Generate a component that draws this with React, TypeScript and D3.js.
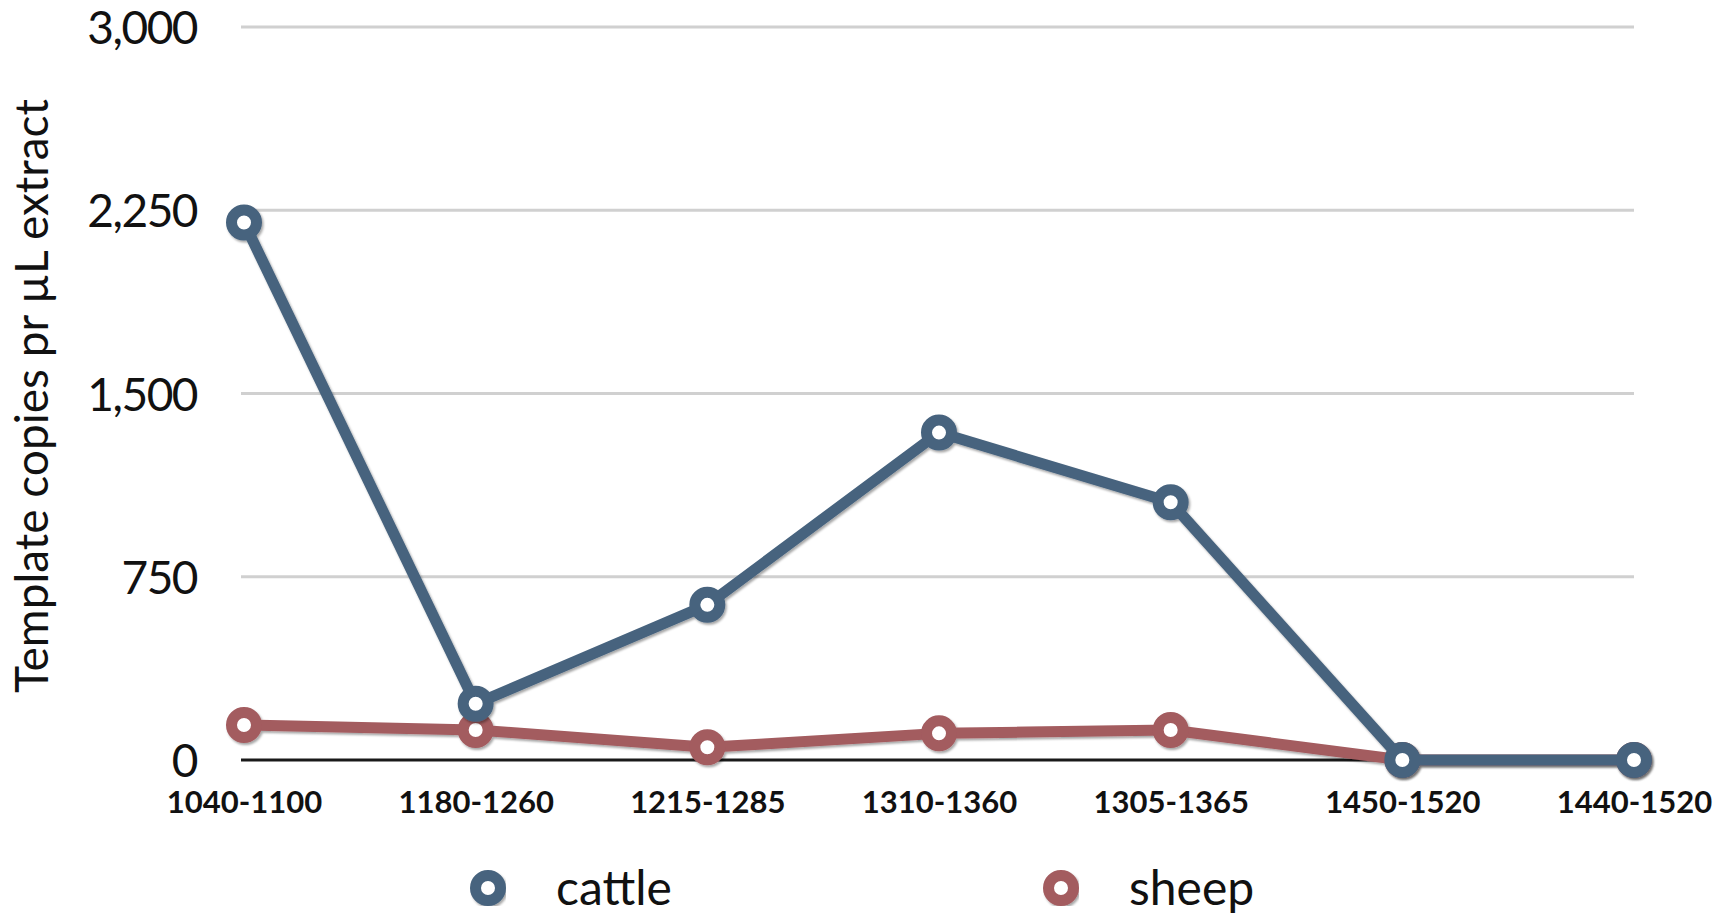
import React, { useEffect, useRef } from 'react';
import * as d3 from 'd3';

const periods = ['1040-1100', '1180-1260', '1215-1285', '1310-1360', '1305-1365', '1450-1520', '1440-1520'];
const cattle = [2200, 230, 635, 1340, 1055, 0, 0];
const sheep = [143, 123, 52, 109, 123, 0, 0];
const yTicks = [0, 750, 1500, 2250, 3000];
const seriesNames = ['cattle', 'sheep'];
const seriesColors = ['#47637e', '#a35b5f'];

export default function App() {
  const svgRef = useRef<SVGSVGElement>(null);

  useEffect(() => {
    const width = 1728;
    const height = 920;
    const dims = { left: 244, right: 1634, top: 27, bottom: 760 };

    const svg = d3.select(svgRef.current).attr('width', width).attr('height', height);
    svg.selectAll('*').remove();

    const defs = svg.append('defs');
    defs
      .append('filter')
      .attr('id', 'shadow')
      .attr('x', '-20%')
      .attr('y', '-20%')
      .attr('width', '140%')
      .attr('height', '140%')
      .append('feDropShadow')
      .attr('dx', 1.5)
      .attr('dy', 2)
      .attr('stdDeviation', 1.2)
      .attr('flood-color', '#000')
      .attr('flood-opacity', 0.35);

    // scales
    const xScale = d3.scalePoint<string>().domain(periods).range([dims.left, dims.right]);
    const yScale = d3.scaleLinear().domain([0, 3000]).range([dims.bottom, dims.top]);

    // grid lines (zero line is black)
    svg
      .append('g')
      .selectAll('line')
      .data(yTicks)
      .join('line')
      .attr('x1', dims.left - 3)
      .attr('x2', dims.right)
      .attr('y1', (d) => yScale(d))
      .attr('y2', (d) => yScale(d))
      .attr('stroke', (d) => (d === 0 ? '#1a1a1a' : '#d0d0d0'))
      .attr('stroke-width', 3);

    // y axis labels
    const yAxis = svg
      .append('g')
      .attr('transform', `translate(${197},0)`)
      .call(d3.axisLeft(yScale).tickValues(yTicks).tickFormat(d3.format(',')).tickSize(0).tickPadding(0));
    yAxis.select('.domain').remove();
    yAxis
      .selectAll('text')
      .attr('font-family', 'Lato, sans-serif')
      .attr('font-size', 46)
      .attr('letter-spacing', -1.5)
      .attr('fill', '#111')
      .attr('dy', '0.36em');

    // x axis labels
    const xAxis = svg
      .append('g')
      .attr('transform', `translate(0,${790})`)
      .call(d3.axisBottom(xScale).tickSize(0).tickPadding(0));
    xAxis.select('.domain').remove();
    xAxis
      .selectAll('text')
      .attr('font-family', 'Lato, sans-serif')
      .attr('font-weight', 'bold')
      .attr('font-size', 31)
      .attr('fill', '#111')
      .attr('dy', '0.75em');

    // y axis title
    svg
      .append('text')
      .attr('transform', `translate(${48},${396}) rotate(-90)`)
      .attr('text-anchor', 'middle')
      .attr('font-family', 'Lato, sans-serif')
      .attr('font-size', 46)
      .attr('fill', '#111')
      .text('Template copies pr µL extract');

    // lines + markers, sheep first so cattle sits on top
    const line = d3
      .line<number>()
      .x((d, i) => xScale(periods[i]) as number)
      .y((d) => yScale(d));

    const allSeries = [sheep, cattle];
    const allColors = [seriesColors[1], seriesColors[0]];
    allSeries.forEach((values, k) => {
      const g = svg.append('g').attr('filter', 'url(#shadow)');
      g.append('path')
        .datum(values)
        .attr('d', line)
        .attr('fill', 'none')
        .attr('stroke', allColors[k])
        .attr('stroke-width', 11)
        .attr('stroke-linejoin', 'round');
      g.selectAll('circle')
        .data(values)
        .join('circle')
        .attr('cx', (d, i) => xScale(periods[i]) as number)
        .attr('cy', (d) => yScale(d))
        .attr('r', 12.5)
        .attr('fill', '#fff')
        .attr('stroke', allColors[k])
        .attr('stroke-width', 11);
    });

    // legend
    const legendX = [488, 1061];
    const legend = svg
      .append('g')
      .selectAll('g')
      .data(seriesNames)
      .join('g')
      .attr('transform', (d, i) => `translate(${legendX[i]},${888})`);
    legend
      .append('line')
      .attr('x1', -22)
      .attr('x2', 22)
      .attr('stroke', (d, i) => seriesColors[i])
      .attr('stroke-width', 11)
      .attr('filter', 'url(#shadow)');
    legend
      .append('circle')
      .attr('r', 12.5)
      .attr('fill', '#fff')
      .attr('stroke', (d, i) => seriesColors[i])
      .attr('stroke-width', 11)
      .attr('filter', 'url(#shadow)');
    legend
      .append('text')
      .attr('x', 68)
      .attr('dy', '0.36em')
      .attr('font-family', 'Lato, sans-serif')
      .attr('font-size', 48)
      .attr('fill', '#111')
      .text((d) => d);
  }, []);

  return (
    <div style={{ position: 'absolute', left: 0, top: 0 }}>
      <svg ref={svgRef} style={{ display: 'block' }} />
    </div>
  );
}
